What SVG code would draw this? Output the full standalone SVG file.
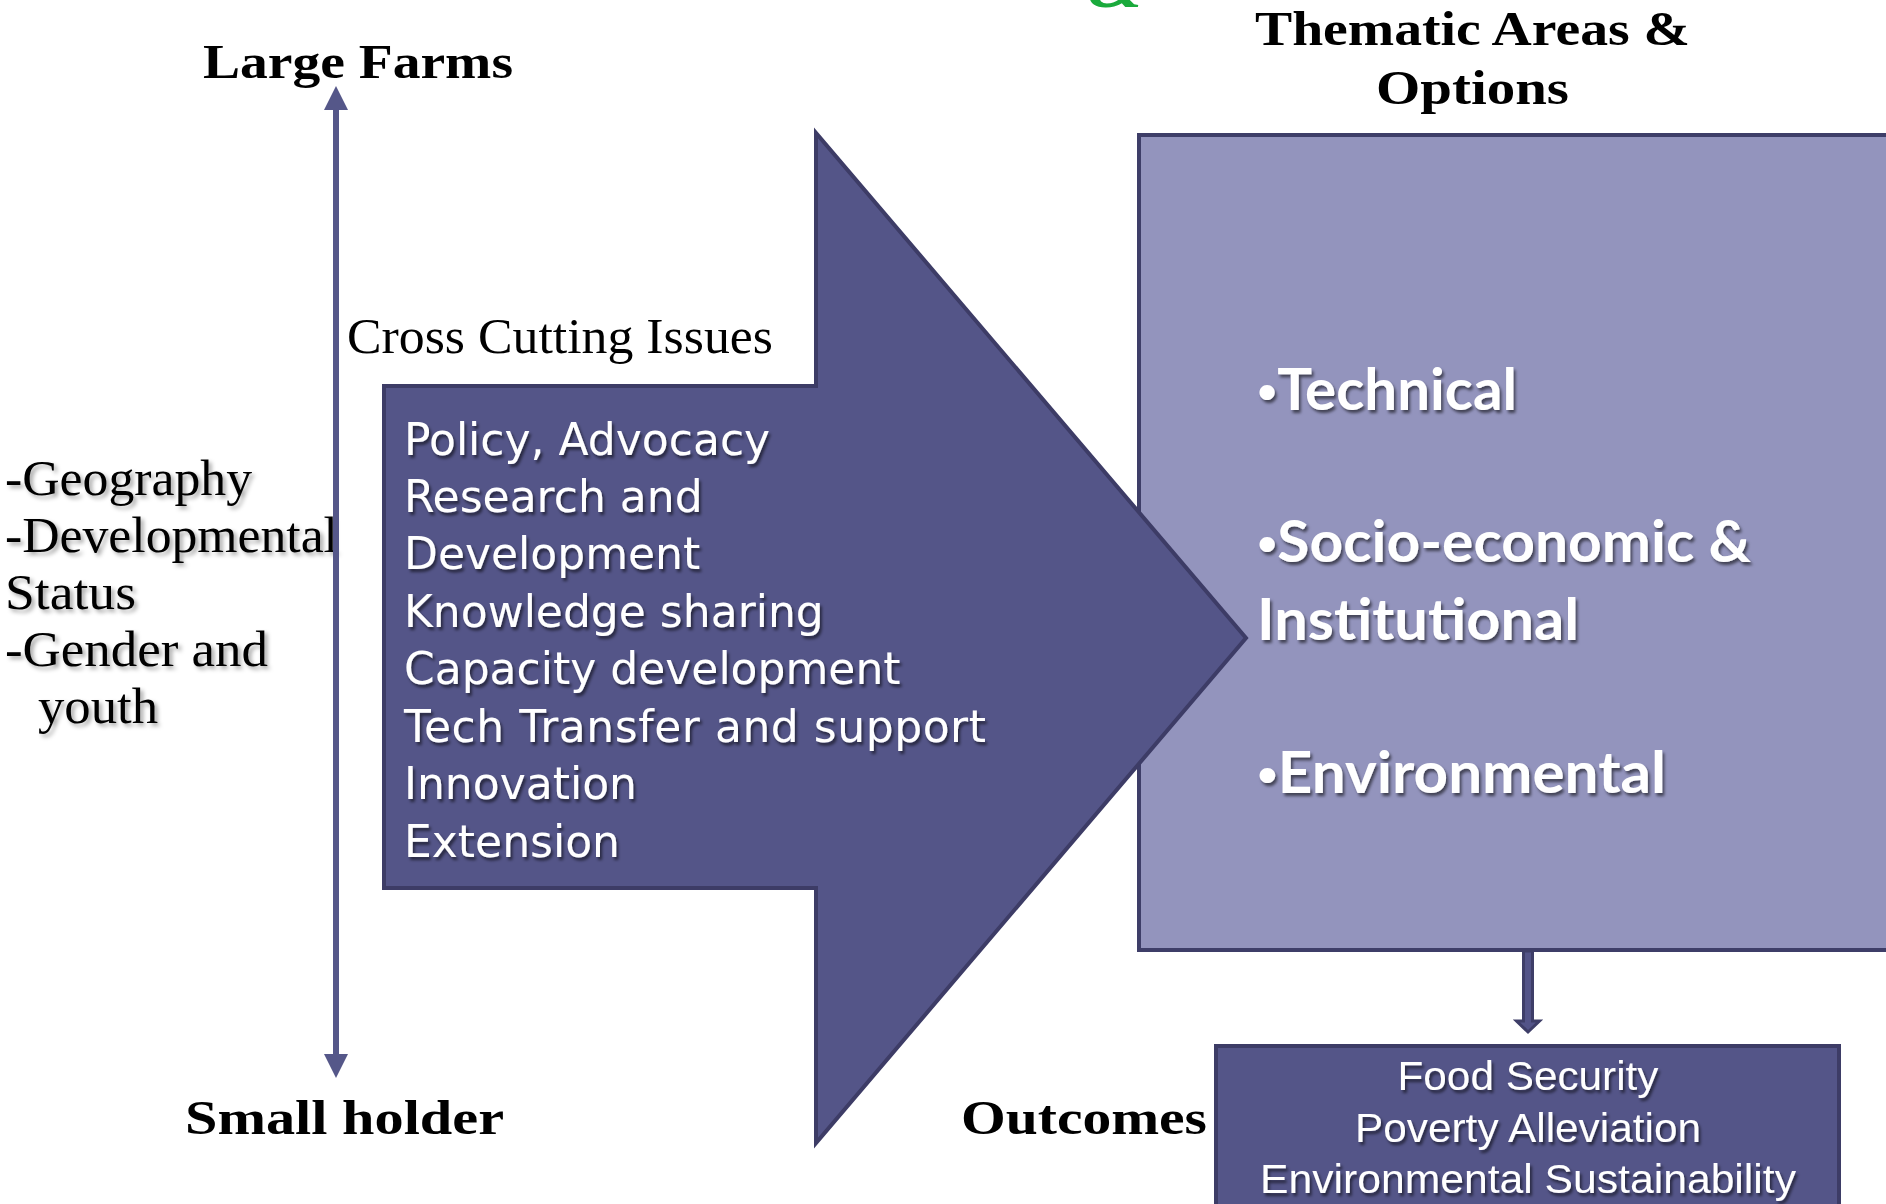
<svg xmlns="http://www.w3.org/2000/svg" width="1886" height="1204" viewBox="0 0 1886 1204">
  <defs>
    <style>
      .hdr { font-family: "Liberation Serif", "Times New Roman", serif; font-weight: bold; font-size: 48px; fill: #000; }
      .ser { font-family: "Liberation Serif", "Times New Roman", serif; font-size: 50px; fill: #000; }
      .body { font-family: "DejaVu Sans", Verdana, sans-serif; font-size: 44px; fill: #fff; }
      .them { font-family: Lato, "Open Sans", sans-serif; font-weight: bold; font-size: 57px; fill: #fff; }
      .bul { font-size: 34px; }
      .out { font-family: "Liberation Sans", Arial, sans-serif; font-size: 40px; fill: #fff; text-anchor: middle; }
      .dark { fill: #545588; stroke: #3d3c66; stroke-width: 4; }
      .light { fill: #9394bd; stroke: #3e3e68; stroke-width: 4; }
    </style>
    <filter id="shW" x="-10%" y="-30%" width="120%" height="160%">
      <feDropShadow dx="2" dy="3" stdDeviation="1.8" flood-color="#000" flood-opacity="0.55"/>
    </filter>
    <filter id="shK" x="-10%" y="-30%" width="120%" height="160%">
      <feDropShadow dx="3" dy="3" stdDeviation="2" flood-color="#000" flood-opacity="0.35"/>
    </filter>
    <marker id="tri" viewBox="0 0 24 24" markerWidth="24" markerHeight="24" refX="2" refY="12" markerUnits="userSpaceOnUse" orient="auto-start-reverse">
      <path d="M0,0 L24,12 L0,24 z" fill="#555789"/>
    </marker>
  </defs>

  <rect width="1886" height="1204" fill="#fff"/>

  <!-- stray green fragment at top (cropped in the original) -->
  <text x="1088" y="7" font-family="Liberation Serif, serif" font-style="italic" font-weight="bold" font-size="64" fill="#1aaa3c" textLength="55" lengthAdjust="spacingAndGlyphs">&amp;</text>

  <!-- headers -->
  <g id="large-farms"><text class="hdr" x="203" y="78" textLength="310" lengthAdjust="spacingAndGlyphs">Large Farms</text></g>
  <g id="small-holder"><text class="hdr" x="185" y="1134" textLength="319" lengthAdjust="spacingAndGlyphs">Small holder</text></g>
  <g id="thematic-title">
    <text class="hdr" x="1255" y="45" textLength="435" lengthAdjust="spacingAndGlyphs">Thematic Areas &amp;</text>
    <text class="hdr" x="1376" y="104" textLength="193" lengthAdjust="spacingAndGlyphs">Options</text>
  </g>
  <g id="outcomes-label"><text class="hdr" x="961" y="1134" textLength="246" lengthAdjust="spacingAndGlyphs">Outcomes</text></g>
  <g id="cross-cutting"><text class="ser" x="347" y="353" font-size="51" textLength="426" lengthAdjust="spacingAndGlyphs">Cross Cutting Issues</text></g>

  <!-- left list -->
  <g id="factors" filter="url(#shK)">
    <text class="ser" x="5" y="495" textLength="247" lengthAdjust="spacingAndGlyphs">-Geography</text>
    <text class="ser" x="5" y="552" textLength="333" lengthAdjust="spacingAndGlyphs">-Developmental</text>
    <text class="ser" x="5" y="609" textLength="131" lengthAdjust="spacingAndGlyphs">Status</text>
    <text class="ser" x="5" y="666" textLength="263" lengthAdjust="spacingAndGlyphs">-Gender and</text>
    <text class="ser" x="38" y="723" textLength="120" lengthAdjust="spacingAndGlyphs">youth</text>
  </g>

  <!-- thematic box -->
  <g id="thematic-box">
    <rect class="light" x="1139" y="135" width="800" height="815"/>
    <g filter="url(#shW)">
      <text class="them" x="1257" y="410" textLength="260" lengthAdjust="spacingAndGlyphs"><tspan class="bul" dy="-7">•</tspan><tspan dy="7">Technical</tspan></text>
      <text class="them" x="1257" y="562" textLength="494" lengthAdjust="spacingAndGlyphs"><tspan class="bul" dy="-7">•</tspan><tspan dy="7">Socio-economic &amp;</tspan></text>
      <text class="them" x="1257" y="640" textLength="322" lengthAdjust="spacingAndGlyphs">Institutional</text>
      <text class="them" x="1257" y="793" textLength="409" lengthAdjust="spacingAndGlyphs"><tspan class="bul" dy="-7">•</tspan><tspan dy="7">Environmental</tspan></text>
    </g>
  </g>

  <!-- big arrow -->
  <g id="cross-cutting-arrow">
    <path class="dark" d="M384,386 L816,386 L816,133 L1246,638 L816,1143 L816,888 L384,888 Z"/>
    <g filter="url(#shW)">
      <text class="body" x="404" y="455">Policy, Advocacy</text>
      <text class="body" x="404" y="512">Research and</text>
      <text class="body" x="404" y="569">Development</text>
      <text class="body" x="404" y="627">Knowledge sharing</text>
      <text class="body" x="404" y="684">Capacity development</text>
      <text class="body" x="404" y="742" textLength="582" lengthAdjust="spacing">Tech Transfer and support</text>
      <text class="body" x="404" y="799">Innovation</text>
      <text class="body" x="404" y="857">Extension</text>
    </g>
  </g>

  <!-- outcomes box -->
  <g id="outcomes-box">
    <rect class="dark" x="1216" y="1046" width="623" height="200"/>
    <g filter="url(#shW)">
      <text class="out" x="1528" y="1090" textLength="261" lengthAdjust="spacingAndGlyphs">Food Security</text>
      <text class="out" x="1528" y="1142" textLength="346" lengthAdjust="spacingAndGlyphs">Poverty Alleviation</text>
      <text class="out" x="1528" y="1193" textLength="536" lengthAdjust="spacingAndGlyphs">Environmental Sustainability</text>
    </g>
  </g>

  <!-- connectors -->
  <g id="connectors">
    <line x1="336" y1="108" x2="336" y2="1056" stroke="#555789" stroke-width="6" marker-start="url(#tri)" marker-end="url(#tri)"/>
    <polygon points="1523.5,951 1532.5,951 1532.5,1021 1539.5,1021 1528,1032 1516.5,1021 1523.5,1021" fill="#535488" stroke="#3e3e68" stroke-width="3"/>
  </g>
</svg>
